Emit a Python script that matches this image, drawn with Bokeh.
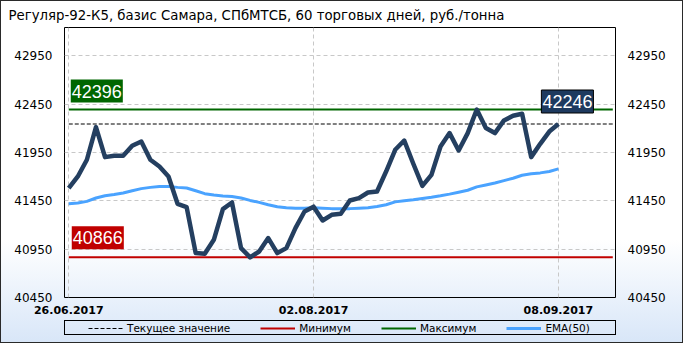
from bokeh.plotting import figure
from bokeh.layouts import column
from bokeh.models import Range1d, FixedTicker, LinearAxis, Label, Legend, LegendItem, InlineStyleSheet
from bokeh.embed import file_html
from bokeh.resources import INLINE

title_text = "Регуляр-92-К5, базис Самара, СПбМТСБ,  60 торговых дней, руб./тонна"
window_days = 60
tick_index = [0, 27, 54]
tick_labels = ["26.06.2017", "02.08.2017", "08.09.2017"]
y_ticks = [40450, 40950, 41450, 41950, 42450, 42950]

price = [41583, 41703, 41876, 42214, 41903, 41917, 41917, 42020, 42065, 41876,
         41806, 41703, 41420, 41386, 40910, 40902, 41047, 41365, 41434, 40961,
         40866, 40926, 41065, 40910, 40961, 41168, 41340, 41390, 41247, 41306,
         41316, 41454, 41479, 41537, 41547, 41754, 41979, 42075, 41834, 41606,
         41720, 42013, 42152, 41972, 42152, 42396, 42204, 42152, 42283, 42331,
         42352, 41903, 42041, 42168, 42246]
ema50 = [41420, 41428, 41445, 41480, 41503, 41516, 41532, 41555, 41577, 41590,
         41600, 41600, 41590, 41583, 41555, 41525, 41510, 41500, 41495, 41480,
         41455, 41435, 41410, 41390, 41380, 41375, 41375, 41380, 41375, 41370,
         41368, 41370, 41375, 41380, 41392, 41410, 41440, 41452, 41462, 41475,
         41488, 41503, 41520, 41540, 41560, 41595, 41615, 41635, 41660, 41685,
         41715, 41730, 41740, 41755, 41782]

legend_labels = ["Текущее значение", "Минимум", "Максимум", "EMA(50)"]

x = list(range(len(price)))
cur_v = price[-1]
min_v = min(price)
max_v = max(price)

FONT = "DejaVu Sans"
CUR_STYLE = dict(line_color="black", line_width=1, line_dash="4 2")
MIN_STYLE = dict(line_color="#c00000", line_width=2)
MAX_STYLE = dict(line_color="#006600", line_width=2)
EMA_STYLE = dict(line_color="#4aa3ff", line_width=3)

p = figure(width=683, height=318, x_range=Range1d(-0.47, 60.3), y_range=Range1d(40450, 43245),
           output_backend="svg", toolbar_location=None,
           min_border_left=64, min_border_right=68, min_border_top=27, min_border_bottom=21,
           border_fill_color=None, background_fill_color=None,
           outline_line_color="black", outline_line_width=1, title=title_text)

p.title.text_font = FONT
p.title.text_font_size = "13.3px"
p.title.text_font_style = "normal"
p.title.align = "left"
p.title.offset = -56
p.title.text_color = "black"

# axes
p.xaxis.ticker = FixedTicker(ticks=tick_index)
p.xaxis.major_label_overrides = {t: s for t, s in zip(tick_index, tick_labels)}
p.yaxis.ticker = FixedTicker(ticks=y_ticks)
right = LinearAxis(ticker=FixedTicker(ticks=y_ticks))
p.add_layout(right, "right")
for ax in p.axis:
    ax.axis_line_color = None
    ax.major_tick_line_color = None
    ax.minor_tick_line_color = None
    ax.major_tick_out = 0
    ax.major_tick_in = 0
    ax.major_label_text_font = FONT
    ax.major_label_text_color = "black"
for ax in p.yaxis:
    ax.major_label_text_font_size = "12px"
    ax.major_label_standoff = 12
p.xaxis.major_label_text_font_size = "11px"
p.xaxis.major_label_text_font_style = "bold"
p.xaxis.major_label_standoff = 8

p.xgrid.ticker = FixedTicker(ticks=tick_index)
p.ygrid.ticker = FixedTicker(ticks=y_ticks)
for g in (p.xgrid[0], p.ygrid[0]):
    g.grid_line_color = "#c8c8c8"
    g.grid_line_dash = "4 3"
    g.grid_line_width = 1

# lines
p.line([0, window_days], [cur_v, cur_v], **CUR_STYLE)
p.line([0, window_days], [min_v, min_v], **MIN_STYLE)
p.line([0, window_days], [max_v, max_v], **MAX_STYLE)
p.line(x, ema50, **EMA_STYLE)
p.line(x, price, line_color="#243f60", line_width=4.5, line_join="round")

# value labels
lab_style = dict(text_font="Liberation Sans", text_font_size="18px", text_color="white",
                 text_baseline="bottom", padding=(1, 5))
p.add_layout(Label(x=0, y=max_v, text=str(max_v), x_offset=2, y_offset=7,
                   background_fill_color="#006600", **lab_style))
p.add_layout(Label(x=0, y=min_v, text=str(min_v), x_offset=3, y_offset=8,
                   background_fill_color="#c00000", **lab_style))
p.add_layout(Label(x=x[-1], y=cur_v, text=str(cur_v), x_offset=-17, y_offset=11,
                   background_fill_color="#1e3a5f", border_line_color="black", **lab_style))

# legend strip (a second figure below the chart)
pl = figure(width=683, height=25, x_range=Range1d(0, 1), y_range=Range1d(0, 1),
            output_backend="svg", toolbar_location=None, x_axis_type=None, y_axis_type=None,
            min_border=0, min_border_left=0, min_border_right=0, min_border_top=0, min_border_bottom=0,
            border_fill_color=None, background_fill_color=None, outline_line_color=None)
pl.grid.visible = False
l_cur = pl.line([0, window_days], [cur_v, cur_v], **CUR_STYLE)
l_min = pl.line([0, window_days], [min_v, min_v], **MIN_STYLE)
l_max = pl.line([0, window_days], [max_v, max_v], **MAX_STYLE)
l_ema = pl.line(x, ema50, **EMA_STYLE)
legend = Legend(items=[LegendItem(label=legend_labels[0], renderers=[l_cur]),
                       LegendItem(label=legend_labels[1], renderers=[l_min]),
                       LegendItem(label=legend_labels[2], renderers=[l_max]),
                       LegendItem(label=legend_labels[3], renderers=[l_ema])],
                orientation="horizontal", location=(24, 9), spacing=30, padding=0, margin=0,
                glyph_width=35, glyph_height=12, label_standoff=4, label_height=12,
                border_line_alpha=0, background_fill_alpha=0,
                label_text_font=FONT, label_text_font_size="10.5px", label_text_color="black")
pl.add_layout(legend)

bg_css = ("linear-gradient(#000,#000) 64px 320px / 552px 1px no-repeat, "
          "linear-gradient(#000,#000) 64px 334px / 552px 1px no-repeat, "
          "linear-gradient(#000,#000) 64px 320px / 1px 15px no-repeat, "
          "linear-gradient(#000,#000) 615px 320px / 1px 15px no-repeat, "
          "linear-gradient(to bottom, #ffffff 0%, #ffffff 70%, #d8e6f8 100%)")
layout = column(p, pl, spacing=0)
layout.stylesheets = [InlineStyleSheet(css=":host { background: %s !important; outline: 1px solid #2a2a2a; outline-offset: -1px; }" % bg_css)]

open("out.html", "w").write(file_html(layout, INLINE))
